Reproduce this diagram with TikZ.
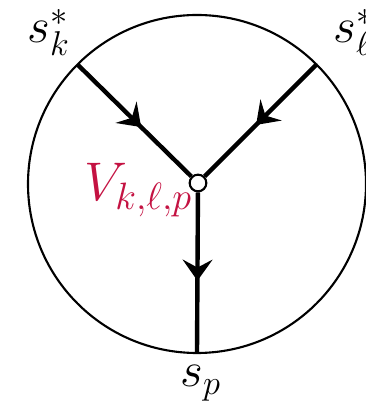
\RequirePackage{fix-cm}
\documentclass[tikz,border=0pt]{standalone}
\usetikzlibrary{arrows.meta,decorations.markings,calc}
\definecolor{vred}{RGB}{196,18,66}
\begin{document}
\begin{tikzpicture}[x=0.02cm,y=0.02cm,
  rim/.style={line width=1.2pt},
  edge/.style={line width=2.5pt},
  midarrow/.style={postaction={decorate},decoration={markings,
    mark=at position #1 with {\arrow{Stealth[length=12pt,width=17pt,inset=4.5pt]}}}},
  lbl/.style={inner sep=0pt,anchor=base west,font=\fontsize{28}{33}\selectfont},
  vtx/.style={circle,draw,fill=white,line width=1.2pt,minimum size=9.5pt,inner sep=0pt}]
\useasboundingbox (0,0) rectangle (365,405);
\coordinate (o) at (197,221);
\draw[rim] (o) circle (169);
\coordinate (a) at ($(o)+(135:169)$);
\coordinate (b) at ($(o)+(45:169)$);
\coordinate (c) at ($(o)+(270:169)$);
\node[vtx] (v) at (198,222) {};
\draw[edge,midarrow=0.56] (a) -- (v);
\draw[edge,midarrow=0.54] (b) -- (v);
\draw[edge,midarrow=0.55] (v) -- (c);
\node[lbl] (sk) at (27,362) {$s_k^*$};
\node[lbl] (sl) at (333,362) {$s_\ell^*$};
\node[lbl] (sp) at (180,18) {$s_p$};
\node[lbl,text=vred,font=\fontsize{31}{36}\selectfont] (V) at (84,204) {$V_{k,\ell,p}$};
\end{tikzpicture}
\end{document}
